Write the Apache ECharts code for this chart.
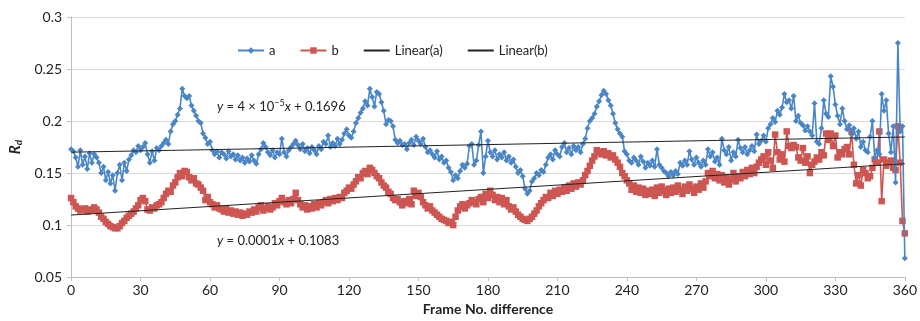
<!DOCTYPE html>
<html>
<head>
<meta charset="utf-8">
<script src="https://cdn.jsdelivr.net/npm/echarts@6/dist/echarts.min.js"></script>
<style>
  html, body { margin: 0; padding: 0; background: #fff; }
  #chart { width: 920px; height: 321px; }
</style>
</head>
<body>
<div id="chart"></div>
<script>
// series a (blue), one value per frame difference 0..360
const seriesA = [
  0.173, 0.171, 0.165, 0.156, 0.172, 0.158, 0.166, 0.154, 0.169, 0.160,
  0.168, 0.165, 0.160, 0.150, 0.156, 0.143, 0.151, 0.140, 0.148, 0.133,
  0.150, 0.158, 0.143, 0.160, 0.152, 0.163, 0.167, 0.172, 0.170, 0.176,
  0.172, 0.175, 0.179, 0.168, 0.160, 0.171, 0.162, 0.174, 0.172, 0.176,
  0.179, 0.182, 0.178, 0.190, 0.197, 0.200, 0.206, 0.212, 0.231, 0.224,
  0.222, 0.224, 0.215, 0.210, 0.205, 0.200, 0.198, 0.188, 0.184, 0.178,
  0.180, 0.172, 0.168, 0.171, 0.165, 0.170, 0.168, 0.164, 0.171, 0.166,
  0.168, 0.163, 0.167, 0.162, 0.165, 0.160, 0.164, 0.161, 0.167, 0.162,
  0.159, 0.168, 0.173, 0.179, 0.175, 0.170, 0.167, 0.172, 0.165, 0.170,
  0.168, 0.183, 0.170, 0.166, 0.172, 0.175, 0.178, 0.181, 0.177, 0.173,
  0.178, 0.171, 0.174, 0.169, 0.175, 0.172, 0.168, 0.176, 0.173, 0.180,
  0.178, 0.186, 0.175, 0.179, 0.176, 0.183, 0.178, 0.182, 0.188, 0.192,
  0.186, 0.184, 0.190, 0.198, 0.203, 0.208, 0.212, 0.219, 0.215, 0.231,
  0.223, 0.214, 0.228, 0.226, 0.218, 0.210, 0.197, 0.201, 0.200, 0.195,
  0.182, 0.179, 0.181, 0.177, 0.178, 0.173, 0.179, 0.182, 0.177, 0.185,
  0.181, 0.178, 0.183, 0.175, 0.170, 0.172, 0.168, 0.165, 0.171, 0.163,
  0.166, 0.160, 0.162, 0.155, 0.151, 0.143, 0.148, 0.145, 0.152, 0.158,
  0.155, 0.159, 0.176, 0.178, 0.158, 0.162, 0.177, 0.190, 0.150, 0.166,
  0.181, 0.170, 0.166, 0.172, 0.163, 0.168, 0.165, 0.170, 0.162, 0.166,
  0.160, 0.163, 0.156, 0.150, 0.153, 0.147, 0.135, 0.130, 0.133, 0.142,
  0.145, 0.150, 0.148, 0.153, 0.151, 0.158, 0.165, 0.168, 0.163, 0.172,
  0.168, 0.166, 0.175, 0.179, 0.170, 0.174, 0.168, 0.176, 0.172, 0.175,
  0.170, 0.178, 0.183, 0.193, 0.200, 0.203, 0.207, 0.214, 0.219, 0.225,
  0.229, 0.226, 0.220, 0.215, 0.207, 0.198, 0.192, 0.188, 0.185, 0.171,
  0.168, 0.162, 0.160, 0.165, 0.162, 0.158, 0.166, 0.161, 0.155, 0.160,
  0.157, 0.162, 0.156, 0.173, 0.158, 0.155, 0.152, 0.150, 0.147, 0.151,
  0.148, 0.152, 0.149, 0.160, 0.157, 0.162, 0.158, 0.171, 0.163, 0.158,
  0.165, 0.160, 0.156, 0.162, 0.158, 0.173, 0.166, 0.170, 0.161, 0.165,
  0.158, 0.183, 0.172, 0.168, 0.175, 0.162, 0.170, 0.166, 0.182, 0.174,
  0.170, 0.175, 0.168, 0.172, 0.176, 0.171, 0.187, 0.178, 0.181, 0.186,
  0.180, 0.193, 0.197, 0.203, 0.199, 0.210, 0.206, 0.213, 0.226, 0.218,
  0.220, 0.212, 0.224, 0.200, 0.205, 0.198, 0.196, 0.191, 0.195, 0.190,
  0.186, 0.217, 0.180, 0.178, 0.193, 0.220, 0.207, 0.204, 0.243, 0.233,
  0.216, 0.205, 0.197, 0.212, 0.200, 0.192, 0.196, 0.187, 0.193, 0.183,
  0.190, 0.175, 0.180, 0.172, 0.170, 0.185, 0.200, 0.165, 0.172, 0.168,
  0.226, 0.210, 0.220, 0.188, 0.170, 0.195, 0.141, 0.275, 0.190, 0.195, 0.068
];

// series b (red)
const seriesB = [
  0.126, 0.122, 0.118, 0.116, 0.114, 0.115, 0.116, 0.113, 0.115, 0.114,
  0.117, 0.115, 0.112, 0.108, 0.106, 0.103, 0.101, 0.099, 0.098, 0.097,
  0.097, 0.099, 0.102, 0.104, 0.107, 0.109, 0.111, 0.113, 0.116, 0.119,
  0.124, 0.126, 0.123, 0.115, 0.114, 0.117, 0.116, 0.119, 0.120, 0.122,
  0.126, 0.130, 0.133, 0.132, 0.138, 0.141, 0.146, 0.150, 0.147, 0.152,
  0.151, 0.146, 0.143, 0.145, 0.140, 0.139, 0.136, 0.133, 0.124, 0.127,
  0.122, 0.120, 0.117, 0.119, 0.116, 0.115, 0.113, 0.116, 0.112, 0.114,
  0.111, 0.113, 0.110, 0.112, 0.109, 0.111, 0.110, 0.113, 0.112, 0.115,
  0.113, 0.117, 0.119, 0.114, 0.116, 0.118, 0.115, 0.117, 0.121, 0.119,
  0.123, 0.126, 0.122, 0.120, 0.124, 0.121, 0.125, 0.131, 0.124, 0.120,
  0.117, 0.119, 0.115, 0.118, 0.116, 0.120, 0.117, 0.121, 0.119, 0.122,
  0.124, 0.121, 0.125, 0.123, 0.126, 0.124, 0.127, 0.126, 0.131, 0.133,
  0.136, 0.135, 0.139, 0.142, 0.146, 0.145, 0.150, 0.152, 0.149, 0.155,
  0.153, 0.150, 0.147, 0.145, 0.141, 0.138, 0.136, 0.132, 0.130, 0.126,
  0.124, 0.125, 0.122, 0.119, 0.123, 0.121, 0.125, 0.120, 0.133, 0.128,
  0.131, 0.127, 0.122, 0.119, 0.116, 0.118, 0.114, 0.112, 0.110, 0.108,
  0.106, 0.105, 0.104, 0.102, 0.103, 0.100, 0.108, 0.114, 0.118, 0.120,
  0.116, 0.119, 0.121, 0.124, 0.122, 0.120, 0.125, 0.127, 0.122, 0.130,
  0.126, 0.133, 0.129, 0.124, 0.127, 0.122, 0.126, 0.120, 0.124, 0.118,
  0.115, 0.117, 0.113, 0.110, 0.108, 0.106, 0.105, 0.104, 0.106, 0.108,
  0.111, 0.114, 0.118, 0.121, 0.124, 0.127, 0.126, 0.131, 0.128, 0.133,
  0.130, 0.134, 0.132, 0.136, 0.133, 0.138, 0.135, 0.140, 0.137, 0.141,
  0.139, 0.143, 0.148, 0.152, 0.157, 0.162, 0.166, 0.172, 0.170, 0.168,
  0.171, 0.167, 0.169, 0.165, 0.167, 0.163, 0.160, 0.156, 0.150, 0.147,
  0.143, 0.140, 0.134, 0.138, 0.132, 0.136, 0.131, 0.135, 0.129, 0.133,
  0.130, 0.134, 0.128, 0.136, 0.131, 0.137, 0.133, 0.129, 0.135, 0.131,
  0.136, 0.132, 0.138, 0.134, 0.130, 0.137, 0.133, 0.139, 0.135, 0.131,
  0.137, 0.134, 0.140, 0.136, 0.142, 0.150, 0.147, 0.152, 0.145, 0.149,
  0.143, 0.148, 0.141, 0.146, 0.139, 0.144, 0.150, 0.142, 0.147, 0.145,
  0.151, 0.147, 0.153, 0.149, 0.155, 0.150, 0.156, 0.160, 0.163, 0.166,
  0.158, 0.170, 0.162, 0.155, 0.187, 0.170, 0.163, 0.168, 0.161, 0.190,
  0.176, 0.174, 0.177, 0.175, 0.165, 0.162, 0.174, 0.160, 0.166, 0.150,
  0.158, 0.161, 0.165, 0.163, 0.170, 0.167, 0.188, 0.182, 0.188, 0.176,
  0.186, 0.165, 0.170, 0.168, 0.173, 0.175, 0.168, 0.190, 0.158, 0.140,
  0.148, 0.138, 0.153, 0.150, 0.145, 0.147, 0.155, 0.163, 0.160, 0.190,
  0.123, 0.163, 0.157, 0.160, 0.162, 0.155, 0.153, 0.195, 0.160, 0.104, 0.092
];

const xTicks = [0, 30, 60, 90, 120, 150, 180, 210, 240, 270, 300, 330, 360];
const yTicks = [0.05, 0.1, 0.15, 0.2, 0.25, 0.3];

const FONT = 'Lato';

// frame difference = index in the array
function toPairs(arr) {
  return arr.map((v, i) => [i, v]);
}

// least squares trend line, end points from the axis range
function trend(arr) {
  const n = arr.length;
  let sx = 0, sy = 0, sxx = 0, sxy = 0;
  arr.forEach((y, x) => { sx += x; sy += y; sxx += x * x; sxy += x * y; });
  const m = (n * sxy - sx * sy) / (n * sxx - sx * sx);
  const b = (sy - m * sx) / n;
  const x0 = xTicks[0], x1 = xTicks[xTicks.length - 1];
  return [[x0, m * x0 + b], [x1, m * x1 + b]];
}

const chart = echarts.init(document.getElementById('chart'));

const option = {
  backgroundColor: '#fff',
  animation: false,
  textStyle: { fontFamily: FONT },
  grid: { left: 70, right: 13, top: 17, bottom: 42 },
  legend: {
    left: 232,
    top: 39,
    itemWidth: 26,
    itemHeight: 8,
    itemGap: 24,
    textStyle: { fontFamily: FONT, fontSize: 13, color: '#222' },
    data: [
      'a',
      'b',
      { name: 'Linear(a)', itemStyle: { opacity: 0 } },
      { name: 'Linear(b)', itemStyle: { opacity: 0 } }
    ]
  },
  xAxis: {
    type: 'value',
    min: xTicks[0],
    max: xTicks[xTicks.length - 1],
    interval: 30,
    name: 'Frame No. difference',
    nameLocation: 'middle',
    nameGap: 22,
    nameTextStyle: { fontFamily: FONT, fontSize: 14, fontWeight: 'bold', color: '#222' },
    axisLine: { lineStyle: { color: '#bfbfbf' } },
    axisTick: { show: true, length: 4, lineStyle: { color: '#bfbfbf' } },
    axisLabel: { fontFamily: FONT, fontSize: 14, color: '#222', margin: 6 },
    splitLine: { show: false }
  },
  yAxis: {
    type: 'value',
    min: yTicks[0],
    max: yTicks[yTicks.length - 1],
    interval: 0.05,
    name: '{i|R}{s|d}',
    nameLocation: 'middle',
    nameGap: 46,
    nameRotate: 90,
    nameTextStyle: {
      rich: {
        i: { fontFamily: FONT, fontSize: 15, fontWeight: 'bold', fontStyle: 'italic', color: '#222' },
        s: { fontFamily: FONT, fontSize: 10, fontWeight: 'bold', fontStyle: 'italic', color: '#222', verticalAlign: 'bottom', padding: [6, 0, 0, 0] }
      }
    },
    axisLine: { show: true, lineStyle: { color: '#bfbfbf' } },
    axisTick: { show: true, length: 4, lineStyle: { color: '#bfbfbf' } },
    axisLabel: {
      fontFamily: FONT, fontSize: 14, color: '#222', margin: 9,
      formatter: v => String(+v.toFixed(2))
    },
    splitLine: { lineStyle: { color: '#d9d9d9' } }
  },
  graphic: [
    {
      type: 'text', left: 217, top: 99, z: 100,
      style: {
        text: '{i|y} = 4 × 10{sup|−5}{i|x} + 0.1696',
        fontFamily: FONT, fontSize: 13, fill: '#222',
        rich: {
          i: { fontFamily: FONT, fontSize: 13, fontStyle: 'italic', fill: '#222' },
          sup: { fontFamily: FONT, fontSize: 9, fill: '#222', verticalAlign: 'top', padding: [0, 0, 7, 0] }
        }
      }
    },
    {
      type: 'text', left: 217, top: 234, z: 100,
      style: {
        text: '{i|y} = 0.0001{i|x} + 0.1083',
        fontFamily: FONT, fontSize: 13, fill: '#222',
        rich: {
          i: { fontFamily: FONT, fontSize: 13, fontStyle: 'italic', fill: '#222' }
        }
      }
    }
  ],
  series: [
    {
      name: 'a',
      type: 'line',
      data: toPairs(seriesA),
      symbol: 'diamond',
      symbolSize: 6,
      color: '#4a86c6',
      lineStyle: { width: 1.6, color: '#4a86c6' },
      itemStyle: { color: '#4a86c6' },
      z: 3
    },
    {
      name: 'b',
      type: 'line',
      data: toPairs(seriesB),
      symbol: 'rect',
      symbolSize: 6.5,
      color: '#cd5652',
      lineStyle: { width: 1.6, color: '#cd5652' },
      itemStyle: { color: '#cd5652' },
      z: 2
    },
    {
      name: 'Linear(a)',
      type: 'line',
      data: trend(seriesA),
      symbol: 'none',
      color: '#222',
      lineStyle: { width: 1, color: '#222' },
      z: 5
    },
    {
      name: 'Linear(b)',
      type: 'line',
      data: trend(seriesB),
      symbol: 'none',
      color: '#222',
      lineStyle: { width: 1, color: '#222' },
      z: 5
    }
  ]
};

chart.setOption(option);
</script>
</body>
</html>
